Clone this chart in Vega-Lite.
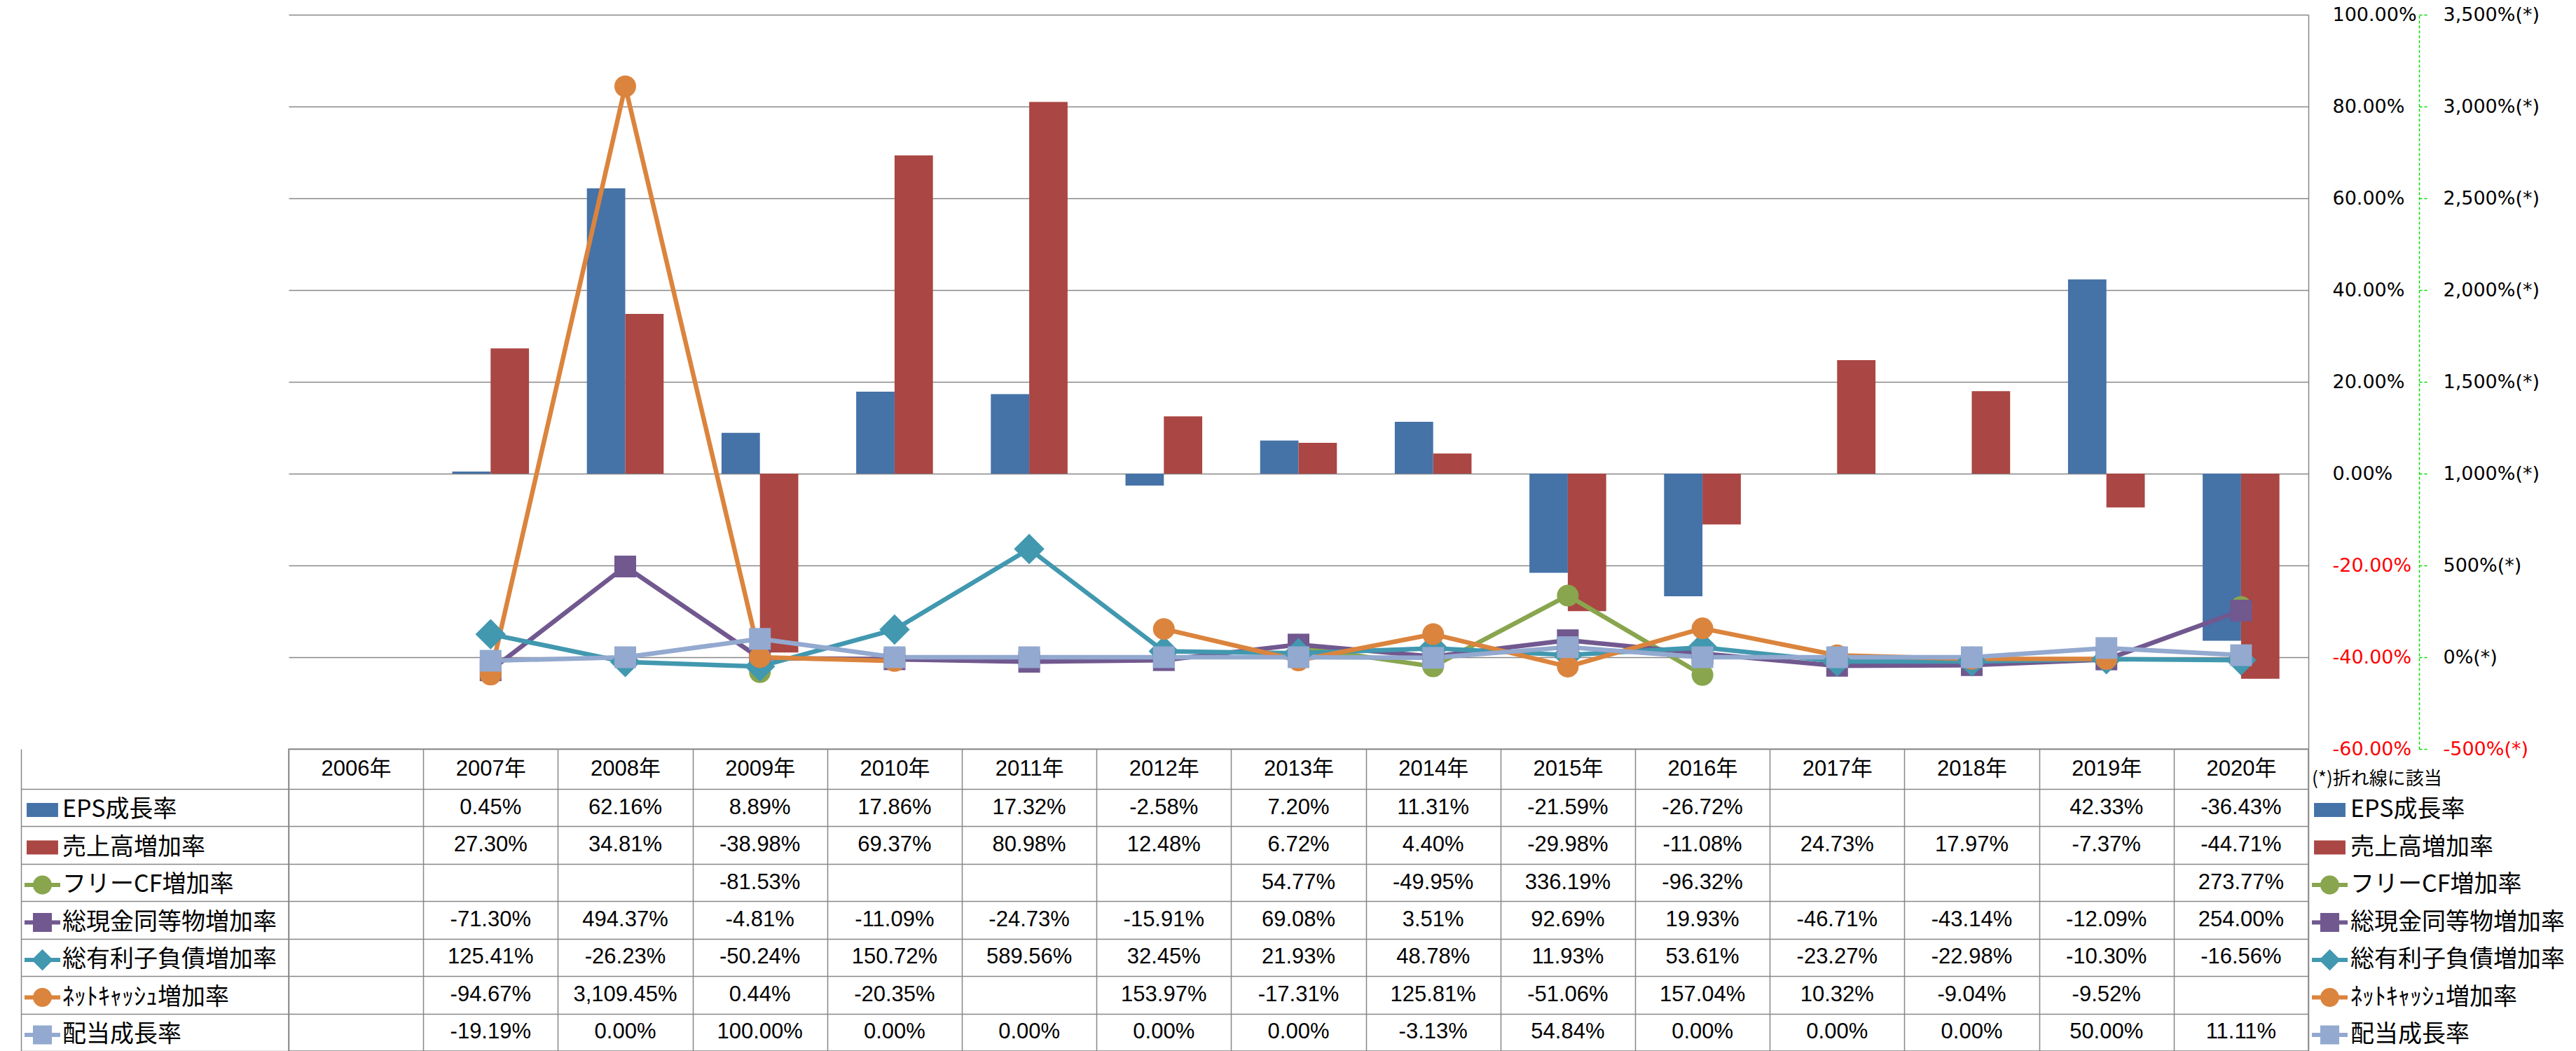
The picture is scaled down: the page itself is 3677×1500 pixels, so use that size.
{
  "$schema": "https://vega.github.io/schema/vega-lite/v6.json",
  "background": "white",
  "padding": {"left": 28, "top": 7, "right": 0, "bottom": 0},
  "spacing": 0,
  "bounds": "flush",
  "config": {
    "view": {"stroke": null},
    "locale": {"number": {"decimal": ".", "thousands": ",", "grouping": [3], "currency": ["", ""], "minus": "-"}}
  },
  "resolve": {"scale": {"color": "independent", "shape": "independent"}},
  "datasets": {
    "t": [
      {"series": "EPS成長率", "year": "2007年", "value": 0.0045},
      {"series": "EPS成長率", "year": "2008年", "value": 0.6216},
      {"series": "EPS成長率", "year": "2009年", "value": 0.0889},
      {"series": "EPS成長率", "year": "2010年", "value": 0.1786},
      {"series": "EPS成長率", "year": "2011年", "value": 0.1732},
      {"series": "EPS成長率", "year": "2012年", "value": -0.0258},
      {"series": "EPS成長率", "year": "2013年", "value": 0.072},
      {"series": "EPS成長率", "year": "2014年", "value": 0.1131},
      {"series": "EPS成長率", "year": "2015年", "value": -0.2159},
      {"series": "EPS成長率", "year": "2016年", "value": -0.2672},
      {"series": "EPS成長率", "year": "2017年", "value": null},
      {"series": "EPS成長率", "year": "2018年", "value": null},
      {"series": "EPS成長率", "year": "2019年", "value": 0.4233},
      {"series": "EPS成長率", "year": "2020年", "value": -0.3643},
      {"series": "売上高増加率", "year": "2007年", "value": 0.273},
      {"series": "売上高増加率", "year": "2008年", "value": 0.3481},
      {"series": "売上高増加率", "year": "2009年", "value": -0.3898},
      {"series": "売上高増加率", "year": "2010年", "value": 0.6937},
      {"series": "売上高増加率", "year": "2011年", "value": 0.8098},
      {"series": "売上高増加率", "year": "2012年", "value": 0.1248},
      {"series": "売上高増加率", "year": "2013年", "value": 0.0672},
      {"series": "売上高増加率", "year": "2014年", "value": 0.044},
      {"series": "売上高増加率", "year": "2015年", "value": -0.2998},
      {"series": "売上高増加率", "year": "2016年", "value": -0.1108},
      {"series": "売上高増加率", "year": "2017年", "value": 0.2473},
      {"series": "売上高増加率", "year": "2018年", "value": 0.1797},
      {"series": "売上高増加率", "year": "2019年", "value": -0.0737},
      {"series": "売上高増加率", "year": "2020年", "value": -0.4471},
      {"series": "フリーCF増加率", "year": "2007年", "value": null},
      {"series": "フリーCF増加率", "year": "2008年", "value": null},
      {"series": "フリーCF増加率", "year": "2009年", "value": -0.8153},
      {"series": "フリーCF増加率", "year": "2010年", "value": null},
      {"series": "フリーCF増加率", "year": "2011年", "value": null},
      {"series": "フリーCF増加率", "year": "2012年", "value": null},
      {"series": "フリーCF増加率", "year": "2013年", "value": 0.5477},
      {"series": "フリーCF増加率", "year": "2014年", "value": -0.4995},
      {"series": "フリーCF増加率", "year": "2015年", "value": 3.3619},
      {"series": "フリーCF増加率", "year": "2016年", "value": -0.9632},
      {"series": "フリーCF増加率", "year": "2017年", "value": null},
      {"series": "フリーCF増加率", "year": "2018年", "value": null},
      {"series": "フリーCF増加率", "year": "2019年", "value": null},
      {"series": "フリーCF増加率", "year": "2020年", "value": 2.7377},
      {"series": "総現金同等物増加率", "year": "2007年", "value": -0.713},
      {"series": "総現金同等物増加率", "year": "2008年", "value": 4.9437},
      {"series": "総現金同等物増加率", "year": "2009年", "value": -0.0481},
      {"series": "総現金同等物増加率", "year": "2010年", "value": -0.1109},
      {"series": "総現金同等物増加率", "year": "2011年", "value": -0.2473},
      {"series": "総現金同等物増加率", "year": "2012年", "value": -0.1591},
      {"series": "総現金同等物増加率", "year": "2013年", "value": 0.6908},
      {"series": "総現金同等物増加率", "year": "2014年", "value": 0.0351},
      {"series": "総現金同等物増加率", "year": "2015年", "value": 0.9269},
      {"series": "総現金同等物増加率", "year": "2016年", "value": 0.1993},
      {"series": "総現金同等物増加率", "year": "2017年", "value": -0.4671},
      {"series": "総現金同等物増加率", "year": "2018年", "value": -0.4314},
      {"series": "総現金同等物増加率", "year": "2019年", "value": -0.1209},
      {"series": "総現金同等物増加率", "year": "2020年", "value": 2.54},
      {"series": "総有利子負債増加率", "year": "2007年", "value": 1.2541},
      {"series": "総有利子負債増加率", "year": "2008年", "value": -0.2623},
      {"series": "総有利子負債増加率", "year": "2009年", "value": -0.5024},
      {"series": "総有利子負債増加率", "year": "2010年", "value": 1.5072},
      {"series": "総有利子負債増加率", "year": "2011年", "value": 5.8956},
      {"series": "総有利子負債増加率", "year": "2012年", "value": 0.3245},
      {"series": "総有利子負債増加率", "year": "2013年", "value": 0.2193},
      {"series": "総有利子負債増加率", "year": "2014年", "value": 0.4878},
      {"series": "総有利子負債増加率", "year": "2015年", "value": 0.1193},
      {"series": "総有利子負債増加率", "year": "2016年", "value": 0.5361},
      {"series": "総有利子負債増加率", "year": "2017年", "value": -0.2327},
      {"series": "総有利子負債増加率", "year": "2018年", "value": -0.2298},
      {"series": "総有利子負債増加率", "year": "2019年", "value": -0.103},
      {"series": "総有利子負債増加率", "year": "2020年", "value": -0.1656},
      {"series": "ﾈｯﾄｷｬｯｼｭ増加率", "year": "2007年", "value": -0.9467},
      {"series": "ﾈｯﾄｷｬｯｼｭ増加率", "year": "2008年", "value": 31.0945},
      {"series": "ﾈｯﾄｷｬｯｼｭ増加率", "year": "2009年", "value": 0.0044},
      {"series": "ﾈｯﾄｷｬｯｼｭ増加率", "year": "2010年", "value": -0.2035},
      {"series": "ﾈｯﾄｷｬｯｼｭ増加率", "year": "2011年", "value": null},
      {"series": "ﾈｯﾄｷｬｯｼｭ増加率", "year": "2012年", "value": 1.5397},
      {"series": "ﾈｯﾄｷｬｯｼｭ増加率", "year": "2013年", "value": -0.1731},
      {"series": "ﾈｯﾄｷｬｯｼｭ増加率", "year": "2014年", "value": 1.2581},
      {"series": "ﾈｯﾄｷｬｯｼｭ増加率", "year": "2015年", "value": -0.5106},
      {"series": "ﾈｯﾄｷｬｯｼｭ増加率", "year": "2016年", "value": 1.5704},
      {"series": "ﾈｯﾄｷｬｯｼｭ増加率", "year": "2017年", "value": 0.1032},
      {"series": "ﾈｯﾄｷｬｯｼｭ増加率", "year": "2018年", "value": -0.0904},
      {"series": "ﾈｯﾄｷｬｯｼｭ増加率", "year": "2019年", "value": -0.0952},
      {"series": "ﾈｯﾄｷｬｯｼｭ増加率", "year": "2020年", "value": null},
      {"series": "配当成長率", "year": "2007年", "value": -0.1919},
      {"series": "配当成長率", "year": "2008年", "value": 0},
      {"series": "配当成長率", "year": "2009年", "value": 1.0},
      {"series": "配当成長率", "year": "2010年", "value": 0},
      {"series": "配当成長率", "year": "2011年", "value": 0},
      {"series": "配当成長率", "year": "2012年", "value": 0},
      {"series": "配当成長率", "year": "2013年", "value": 0},
      {"series": "配当成長率", "year": "2014年", "value": -0.0313},
      {"series": "配当成長率", "year": "2015年", "value": 0.5484},
      {"series": "配当成長率", "year": "2016年", "value": 0},
      {"series": "配当成長率", "year": "2017年", "value": 0},
      {"series": "配当成長率", "year": "2018年", "value": 0},
      {"series": "配当成長率", "year": "2019年", "value": 0.5},
      {"series": "配当成長率", "year": "2020年", "value": 0.1111}
    ]
  },
  "vconcat": [
    {
      "width": 2883,
      "height": 1048,
      "data": {"name": "t"},
      "layer": [
        {
          "transform": [{"filter": "indexof(['EPS成長率','売上高増加率'], datum.series) >= 0"}],
          "mark": {"type": "bar"},
          "encoding": {
            "x": {"field": "year", "type": "nominal", "sort": null,
              "scale": {"domain": ["2006年","2007年","2008年","2009年","2010年","2011年","2012年","2013年","2014年","2015年","2016年","2017年","2018年","2019年","2020年"], "paddingInner": 0.43, "paddingOuter": 0.215},
              "axis": null},
            "xOffset": {"field": "series", "type": "nominal", "scale": {"domain": ["EPS成長率", "売上高増加率"], "paddingInner": 0, "paddingOuter": 0}},
            "y": {"field": "value", "type": "quantitative",
              "scale": {"domain": [-0.6, 1], "nice": false, "zero": false},
              "axis": {"orient": "right", "title": null, "values": [-0.6, -0.4, -0.2, 0, 0.2, 0.4, 0.6, 0.8, 1], "format": ".2%",
                "grid": true, "gridColor": "#878787", "gridWidth": 1.5,
                "ticks": false, "tickSize": 0, "domain": true, "domainColor": "#878787", "domainWidth": 1.5,
                "labelPadding": 34, "labelFont": "DejaVu Sans", "labelFontSize": 27,
                "labelColor": {"condition": {"test": "datum.value < 0", "value": "#ff0000"}, "value": "#000000"},
                "labelBound": false, "labelFlush": false, "labelOverlap": false}},
            "color": {"field": "series", "type": "nominal",
              "scale": {"domain": ["EPS成長率","売上高増加率","フリーCF増加率","総現金同等物増加率","総有利子負債増加率","ﾈｯﾄｷｬｯｼｭ増加率","配当成長率"],
                "range": ["#4572A7","#AA4643","#89A54E","#71588F","#4198AF","#DB843D","#93A9CF"]},
              "legend": null}
          }
        },
        {
          "transform": [{"filter": "indexof(['EPS成長率','売上高増加率'], datum.series) < 0"}],
          "encoding": {
            "x": {"field": "year", "type": "nominal"},
            "y": {"field": "value", "type": "quantitative",
              "scale": {"domain": [-5, 35], "nice": false, "zero": false},
              "axis": {"orient": "right", "offset": 158, "title": null, "values": [-5, 0, 5, 10, 15, 20, 25, 30, 35],
                "labelExpr": "format(datum.value, ',.0%') + '(*)'",
                "grid": false, "ticks": true, "tickSize": 12, "tickColor": "#00dd00", "tickDash": [4, 3], "tickWidth": 1.5,
                "domain": true, "domainColor": "#00dd00", "domainDash": [4, 3], "domainWidth": 1.5,
                "labelPadding": 22, "labelFont": "DejaVu Sans", "labelFontSize": 27,
                "labelColor": {"condition": {"test": "datum.value < 0", "value": "#ff0000"}, "value": "#000000"},
                "labelBound": false, "labelFlush": false, "labelOverlap": false}},
            "color": {"field": "series", "type": "nominal", "legend": null}
          },
          "layer": [
            {"mark": {"type": "line", "strokeWidth": 6.5, "strokeJoin": "round", "strokeCap": "round", "invalid": "break-paths-filter-domains"}},
            {"mark": {"type": "point", "filled": true, "size": 961, "opacity": 1},
              "encoding": {"shape": {"field": "series", "type": "nominal",
                "scale": {"domain": ["フリーCF増加率","総現金同等物増加率","総有利子負債増加率","ﾈｯﾄｷｬｯｼｭ増加率","配当成長率"],
                  "range": ["circle", "square", "M0,-1.4L1.4,0L0,1.4L-1.4,0Z", "circle", "square"]},
                "legend": null}}}
          ]
        }
      ],
      "resolve": {"scale": {"y": "independent"}}
    },
    {
      "width": 2883,
      "height": 431,
      "data": {"name": "t"},
      "view": {"stroke": "#878787", "strokeWidth": 1.5},
      "encoding": {
        "x": {"field": "year", "type": "nominal",
          "scale": {"domain": ["2006年","2007年","2008年","2009年","2010年","2011年","2012年","2013年","2014年","2015年","2016年","2017年","2018年","2019年","2020年"], "paddingInner": 0, "paddingOuter": 0},
          "axis": {"orient": "top", "title": null, "ticks": false, "tickSize": 0, "domain": false, "grid": true, "tickBand": "extent",
            "gridColor": "#878787", "gridWidth": 1.5, "labelPadding": -28, "labelBaseline": "middle", "labelAngle": 0,
            "labelFont": "Liberation Sans, Noto Sans CJK JP", "labelFontSize": 31, "labelColor": "#000000"}},
        "y": {"field": "series", "type": "nominal",
          "scale": {"domain": ["EPS成長率","売上高増加率","フリーCF増加率","総現金同等物増加率","総有利子負債増加率","ﾈｯﾄｷｬｯｼｭ増加率","配当成長率"], "paddingInner": 0, "paddingOuter": 0.534, "align": 1},
          "axis": {"orient": "left", "title": null, "labels": false, "offset": 382, "domain": true, "domainColor": "#878787", "domainWidth": 1.5,
            "ticks": true, "tickSize": -382, "tickBand": "extent", "tickColor": "#878787", "tickWidth": 1.5,
            "grid": true, "gridColor": "#878787", "gridWidth": 1.5}}
      },
      "layer": [
        {
          "mark": {"type": "point", "filled": true, "opacity": 0},
          "encoding": {
            "color": {"field": "series", "type": "nominal",
              "scale": {"domain": ["EPS成長率","売上高増加率","フリーCF増加率","総現金同等物増加率","総有利子負債増加率","ﾈｯﾄｷｬｯｼｭ増加率","配当成長率"],
                "range": ["#4572A7","#AA4643","#89A54E","#71588F","#4198AF","#DB843D","#93A9CF"]},
              "legend": {"orient": "none", "legendX": -377, "legendY": 61.5, "title": null, "direction": "vertical", "symbolSize": 2601, "symbolOpacity": 1, "symbolStrokeWidth": 0,
                "labelFont": "Noto Sans CJK JP", "labelFontSize": 34, "labelColor": "#000000", "labelOffset": 3, "labelLimit": 1000, "rowPadding": 10.5, "padding": 0}},
            "shape": {"field": "series", "type": "nominal",
              "scale": {"domain": ["EPS成長率","売上高増加率","フリーCF増加率","総現金同等物増加率","総有利子負債増加率","ﾈｯﾄｷｬｯｼｭ増加率","配当成長率"],
                "range": ["M-0.88,-0.39H0.88V0.39H-0.88Z", "M-0.88,-0.39H0.88V0.39H-0.88Z",
                  "M-1,-0.12H1V0.12H-1Z M0.53,0A0.53,0.53 0 1 1 -0.53,0A0.53,0.53 0 1 1 0.53,0Z",
                  "M-1,-0.12H1V0.12H-1Z M-0.53,-0.53H0.53V0.53H-0.53Z",
                  "M-1,-0.12H1V0.12H-1Z M0,-0.6L0.6,0L0,0.6L-0.6,0Z",
                  "M-1,-0.12H1V0.12H-1Z M0.53,0A0.53,0.53 0 1 1 -0.53,0A0.53,0.53 0 1 1 0.53,0Z",
                  "M-1,-0.12H1V0.12H-1Z M-0.53,-0.53H0.53V0.53H-0.53Z"]},
              "legend": {"orient": "none", "legendX": -377, "legendY": 61.5, "title": null, "direction": "vertical", "symbolSize": 2601, "symbolOpacity": 1, "symbolStrokeWidth": 0,
                "labelFont": "Noto Sans CJK JP", "labelFontSize": 34, "labelColor": "#000000", "labelOffset": 3, "labelLimit": 1000, "rowPadding": 10.5, "padding": 0}}
          }
        },
        {
          "mark": {"type": "point", "filled": true, "opacity": 0},
          "encoding": {
            "color": {"field": "series", "type": "nominal",
              "scale": {"domain": ["EPS成長率","売上高増加率","フリーCF増加率","総現金同等物増加率","総有利子負債増加率","ﾈｯﾄｷｬｯｼｭ増加率","配当成長率"],
                "range": ["#4572A7","#AA4643","#89A54E","#71588F","#4198AF","#DB843D","#93A9CF"]},
              "legend": {"orient": "none", "legendX": 2888, "legendY": 29.5, "title": "(*)折れ線に該当", "titleFont": "Noto Sans CJK JP", "titleFontSize": 26, "titleFontWeight": "normal", "titleColor": "#000000", "titlePadding": 6, "titleAnchor": "start", "titleLimit": 1000,
                "direction": "vertical", "symbolSize": 2601, "symbolOpacity": 1, "symbolStrokeWidth": 0,
                "labelFont": "Noto Sans CJK JP", "labelFontSize": 34, "labelColor": "#000000", "labelOffset": 4, "labelLimit": 1000, "rowPadding": 10.5, "padding": 0}},
            "shape": {"field": "series", "type": "nominal",
              "scale": {"domain": ["EPS成長率","売上高増加率","フリーCF増加率","総現金同等物増加率","総有利子負債増加率","ﾈｯﾄｷｬｯｼｭ増加率","配当成長率"],
                "range": ["M-0.88,-0.39H0.88V0.39H-0.88Z", "M-0.88,-0.39H0.88V0.39H-0.88Z",
                  "M-1,-0.12H1V0.12H-1Z M0.53,0A0.53,0.53 0 1 1 -0.53,0A0.53,0.53 0 1 1 0.53,0Z",
                  "M-1,-0.12H1V0.12H-1Z M-0.53,-0.53H0.53V0.53H-0.53Z",
                  "M-1,-0.12H1V0.12H-1Z M0,-0.6L0.6,0L0,0.6L-0.6,0Z",
                  "M-1,-0.12H1V0.12H-1Z M0.53,0A0.53,0.53 0 1 1 -0.53,0A0.53,0.53 0 1 1 0.53,0Z",
                  "M-1,-0.12H1V0.12H-1Z M-0.53,-0.53H0.53V0.53H-0.53Z"]},
              "legend": {"orient": "none", "legendX": 2888, "legendY": 29.5, "title": "(*)折れ線に該当", "titleFont": "Noto Sans CJK JP", "titleFontSize": 26, "titleFontWeight": "normal", "titleColor": "#000000", "titlePadding": 6, "titleAnchor": "start", "titleLimit": 1000,
                "direction": "vertical", "symbolSize": 2601, "symbolOpacity": 1, "symbolStrokeWidth": 0,
                "labelFont": "Noto Sans CJK JP", "labelFontSize": 34, "labelColor": "#000000", "labelOffset": 4, "labelLimit": 1000, "rowPadding": 10.5, "padding": 0}}
          }
        },
        {
          "transform": [{"filter": "isValid(datum.value)"}],
          "mark": {"type": "text", "font": "Liberation Sans", "fontSize": 31, "color": "#000000", "baseline": "middle", "align": "center"},
          "encoding": {"text": {"field": "value", "type": "quantitative", "format": ",.2%"}}
        }
      ],
      "resolve": {"scale": {"color": "independent", "shape": "independent"}}
    }
  ]
}
